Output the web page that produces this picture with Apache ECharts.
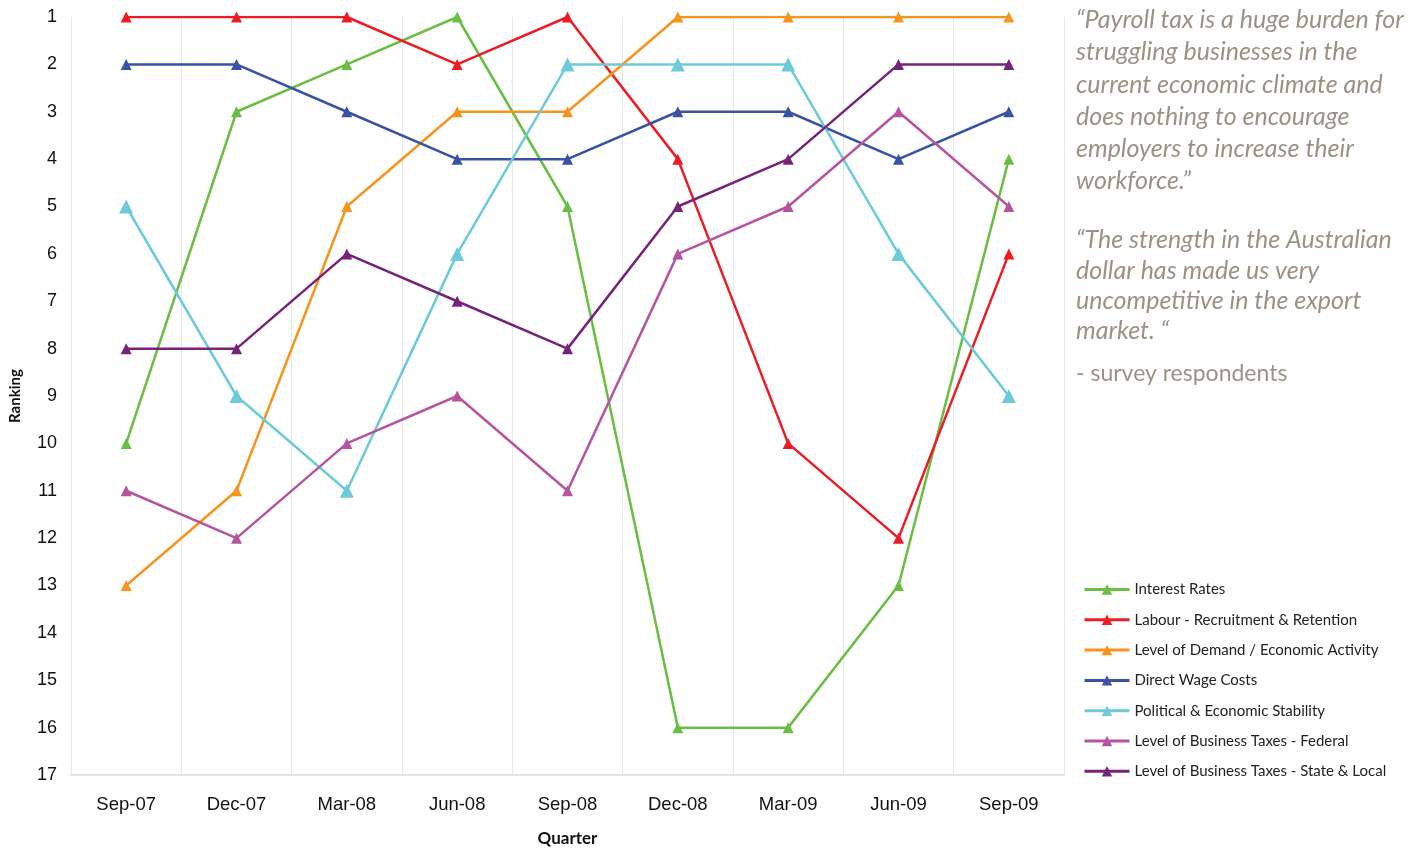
<!DOCTYPE html>
<html>
<head>
<meta charset="utf-8">
<script src="https://cdn.jsdelivr.net/npm/echarts@6/dist/echarts.min.js"></script>
<style>
html, body { margin: 0; padding: 0; background: #fff; }
#chart { width: 1414px; height: 849px; }
</style>
</head>
<body>
<div id="chart"></div>
<script>
var quarters = ['Sep-07', 'Dec-07', 'Mar-08', 'Jun-08', 'Sep-08', 'Dec-08', 'Mar-09', 'Jun-09', 'Sep-09'];
var interestRates = [10, 3, 2, 1, 5, 16, 16, 13, 4];
var labour = [1, 1, 1, 2, 1, 4, 10, 12, 6];
var demand = [13, 11, 5, 3, 3, 1, 1, 1, 1];
var wageCosts = [2, 2, 3, 4, 4, 3, 3, 4, 3];
var stability = [5, 9, 11, 6, 2, 2, 2, 6, 9];
var taxFederal = [11, 12, 10, 9, 11, 6, 5, 3, 5];
var taxState = [8, 8, 6, 7, 8, 5, 4, 2, 2];

var seriesDefs = [
    { name: 'Interest Rates', data: interestRates, color: '#6abd45', size: 11 },
    { name: 'Labour - Recruitment & Retention', data: labour, color: '#ed1c24', size: 11 },
    { name: 'Level of Demand / Economic Activity', data: demand, color: '#f7941d', size: 11 },
    { name: 'Direct Wage Costs', data: wageCosts, color: '#3953a4', size: 11 },
    { name: 'Political & Economic Stability', data: stability, color: '#6dcad9', size: 14 },
    { name: 'Level of Business Taxes - Federal', data: taxFederal, color: '#b6549f', size: 11 },
    { name: 'Level of Business Taxes - State & Local', data: taxState, color: '#76237a', size: 11 }
];

var series = seriesDefs.map(function (s) {
    return {
        name: s.name,
        type: 'line',
        data: s.data,
        symbol: 'triangle',
        symbolSize: s.size,
        lineStyle: { width: 2.5, color: s.color },
        itemStyle: { color: s.color },
        animation: false
    };
});

var quoteColor = '#9b9285';
var chart = echarts.init(document.getElementById('chart'));
chart.setOption({
    animation: false,
    grid: { left: 71, right: 350, top: 17, bottom: 74, outerBoundsMode: 'none', containLabel: false },
    legend: {
        orient: 'vertical',
        left: 1083,
        top: 582,
        padding: 0,
        itemWidth: 45,
        itemHeight: 13,
        itemGap: 15.3,
        lineStyle: { width: 3 },
        data: seriesDefs.map(function (s) { return s.name; }),
        textStyle: { fontFamily: 'Lato', fontSize: 15, color: '#222' }
    },
    xAxis: {
        type: 'category',
        data: quarters,
        boundaryGap: true,
        name: 'Quarter',
        nameLocation: 'middle',
        nameGap: 55,
        nameTextStyle: { fontFamily: 'Lato', fontWeight: 'bold', fontSize: 17, color: '#111' },
        axisLine: { onZero: false, lineStyle: { color: '#e4e4e4', width: 2 } },
        axisTick: { show: false },
        axisLabel: { margin: 20, fontFamily: 'Liberation Sans', fontSize: 18.5, color: '#111' },
        splitLine: { show: true, lineStyle: { color: '#e8e8e8', width: 1 } }
    },
    yAxis: {
        type: 'value',
        inverse: true,
        min: 1,
        max: 17,
        interval: 1,
        name: 'Ranking',
        nameLocation: 'middle',
        nameRotate: 90,
        nameGap: 48,
        nameTextStyle: { fontFamily: 'Lato', fontWeight: 'bold', fontSize: 15, color: '#111' },
        axisLine: { show: false },
        axisTick: { show: false },
        axisLabel: { margin: 14, fontFamily: 'Liberation Sans', fontSize: 18, color: '#111' },
        splitLine: { show: false }
    },
    graphic: [
        {
            type: 'text',
            left: 1076,
            top: 4,
            style: {
                text: '\u201cPayroll tax is a huge burden for\nstruggling businesses in the\ncurrent economic climate and\ndoes nothing to encourage\nemployers to increase their\nworkforce.\u201d',
                font: 'italic 25px Lato',
                lineHeight: 32.2,
                fill: quoteColor
            }
        },
        {
            type: 'text',
            left: 1076,
            top: 225,
            style: {
                text: '\u201cThe strength in the Australian\ndollar has made us very\nuncompetitive in the export\nmarket. \u201c',
                font: 'italic 25px Lato',
                lineHeight: 30.3,
                fill: quoteColor
            }
        },
        {
            type: 'text',
            left: 1076,
            top: 362,
            style: {
                text: '- survey respondents',
                font: '23px Lato',
                fill: quoteColor
            }
        }
    ],
    series: series
});
</script>
</body>
</html>
